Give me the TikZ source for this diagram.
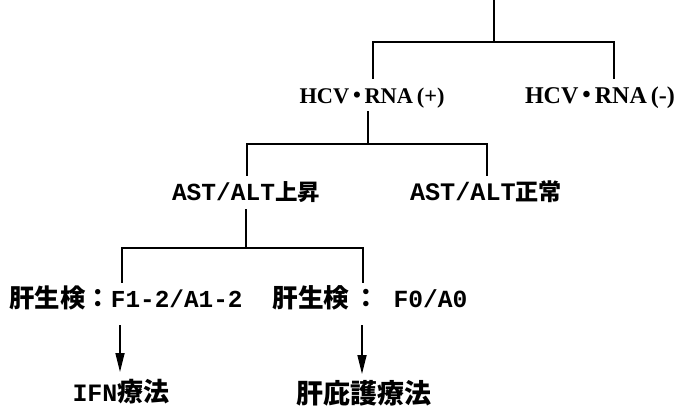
\documentclass[tikz,border=0pt]{standalone}
\usepackage{fontspec}
\setmainfont{Liberation Mono}
\newfontfamily\cjk{Noto Sans CJK JP}
\newfontfamily\ser{Liberation Serif}
\newcommand\cj[1]{{\fontsize{22}{26}\selectfont\cjk #1}}
\newcommand\cjl[1]{{\fontsize{25}{28}\selectfont\cjk #1}}
\usetikzlibrary{arrows.meta}
\newcommand\fitw[2]{\resizebox{#1pt}{!}{#2}}
\tikzset{
  lbl/.style={inner sep=0pt, font=\fontsize{24}{26}\selectfont\bfseries},
  serlbl/.style={inner sep=0pt, font=\fontsize{23}{26}\ser\bfseries},
  conn/.style={line width=1.7pt, line cap=rect},
  arr/.style={line width=1.7pt, -{Triangle[length=19pt,width=9pt]}}
}
\begin{document}
\begin{tikzpicture}[x=1pt,y=-1pt]
\useasboundingbox[fill=white] (0,0) rectangle (676,408);
% labels
\node[serlbl] (hcvp) at (372,98) {\fitw{145}{HCV\,\raisebox{1pt}{\textbullet}\,RNA\,(+)}};
\node[serlbl] (hcvn) at (600,98) {\fitw{150}{HCV\,\raisebox{1pt}{\textbullet}\,RNA\,(-)}};
\node[lbl] (astu) at (246,192) {\fitw{148}{AST/ALT\cj{上昇}}};
\node[lbl] (astn) at (486,192) {\fitw{152}{AST/ALT\cj{正常}}};
\node[lbl] (bxl) at (126,298) {\fitw{233}{\cjl{肝生検：}F1-2/A1-2}};
\node[lbl] (bxr) at (370,298) {\fitw{195}{\cjl{肝生検}\hspace{4pt}\cjl{：}\hspace{14pt}F0/A0}};
\node[lbl] (ifn) at (121,392) {\fitw{97}{IFN\cjl{療法}}};
\node[lbl] (hogo) at (364,393) {\fitw{135}{\cjl{肝庇護療法}}};
% branch coordinates
\coordinate (t0) at (494,0);
\coordinate (t1) at (494,42);
\coordinate (a2) at (373,78);
\coordinate (b2) at (614,78);
\coordinate (c0) at (368,112);
\coordinate (c1) at (368,144);
\coordinate (e2) at (247,175);
\coordinate (f2) at (487,175);
\coordinate (d0) at (246,210);
\coordinate (d1) at (246,248);
\coordinate (g2) at (122,282);
\coordinate (h2) at (363,282);
\coordinate (p0) at (120,325);
\coordinate (p1) at (120,372);
\coordinate (q0) at (362,325);
\coordinate (q1) at (362,374);
% connectors
\draw[conn] (t0) -- (t1);
\draw[conn] (a2) |- (t1) -| (b2);
\draw[conn] (c0) -- (c1);
\draw[conn] (e2) |- (c1) -| (f2);
\draw[conn] (d0) -- (d1);
\draw[conn] (g2) |- (d1) -| (h2);
\draw[arr] (p0) -- (p1);
\draw[arr] (q0) -- (q1);
\end{tikzpicture}
\end{document}
